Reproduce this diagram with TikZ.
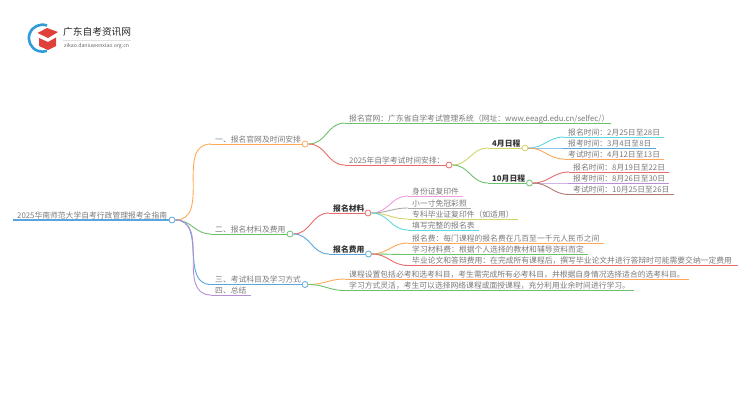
\documentclass[tikz,border=0pt]{standalone}
\usepackage{fontspec}
\setmainfont{Noto Sans CJK SC}
\usetikzlibrary{arrows.meta}
\definecolor{lorange}{HTML}{FFA858}
\definecolor{lgreen}{HTML}{6CC06C}
\definecolor{lred}{HTML}{E86A6A}
\definecolor{lblue}{HTML}{5AA5DC}
\definecolor{lpurple}{HTML}{B78FD8}
\definecolor{lyellow}{HTML}{D4D46A}
\definecolor{lcyan}{HTML}{5ED8E0}
\definecolor{lpink}{HTML}{F29AE0}
\definecolor{lgray}{HTML}{AAAAAA}
\definecolor{lbrown}{HTML}{B07A70}
\definecolor{logored}{HTML}{E0403A}
\definecolor{logoblue}{HTML}{2F9BD8}
\tikzset{
  every picture/.style={x=1pt, y=-1pt},
  topic/.style={anchor=south west, font=\fontsize{7.8}{9}\selectfont, text=black!52,
    inner xsep=4pt, inner ysep=0.5pt, text height=7pt, text depth=1pt},
  head/.style={topic, text=black!80, font=\fontsize{7.8}{9}\selectfont\bfseries},
  dot/.style={circle, draw, fill=white, line width=0.8pt, minimum size=6pt, inner sep=0pt},
  link/.style={line width=0.9pt, out=0, in=180, looseness=1.1}}

\begin{document}
\begin{tikzpicture}
    \useasboundingbox (0, 0) rectangle (750, 410);

    % logo
    \begin{scope}
      \draw[logoblue, line width=2.6pt] (47, 25.5) arc (-70:-290:13.5);
      \fill[logored] (37.5, 33) -- (47, 28) -- (58, 32) -- (48, 38) -- cycle;
      \fill[logored] (39, 38) -- (48, 42) -- (56, 37.5) -- (56, 46) -- (48, 50) -- (39, 46) -- cycle;
      \node[anchor=west, font=\fontsize{9.7}{11}\selectfont, text=black!85, inner sep=0pt] (title) at (63, 31.5) {广东自考资讯网};
      \node[anchor=west, font=\fontsize{5.2}{6}\selectfont, text=black!60, inner sep=0pt] (site) at (64, 46.5) {zikao.daniuwenxiao.org.cn};
      \coordinate (ruleA) at (63, 40);
      \coordinate (ruleB) at (131, 40);
      \draw[black!12, line width=0.4pt] (ruleA) -- (ruleB);
    \end{scope}

    % root and first level
    \node[topic] (root) at (13, 220) {2025华南师范大学自考行政管理报考全指南};
    \node[dot, draw=lblue] (rootd) at (172, 220) {};
    \node[topic] (A) at (211, 144) {一、报名官网及时间安排};
    \node[dot, draw=lorange] (Ad) at (305, 144) {};
    \node[topic] (B) at (211, 234) {二、报名材料及费用};
    \node[dot, draw=lgreen] (Bd) at (290, 234) {};
    \node[topic] (C) at (211, 284.5) {三、考试科目及学习方式};
    \node[dot, draw=lblue] (Cd) at (305, 284.5) {};
    \node[topic] (D) at (211, 295) {四、总结};

    \draw[lblue, line width=1.2pt] (root.south west) -- (rootd.west);
    \draw[link, lorange] (rootd.east) to (A.south west);
    \draw[link, lorange] (A.south west) -- (Ad.west);
    \draw[link, lgreen] (rootd.east) to (B.south west);
    \draw[link, lgreen] (B.south west) -- (Bd.west);
    \draw[link, lblue] (rootd.east) to (C.south west);
    \draw[link, lblue] (C.south west) -- (Cd.west);
    \draw[link, lpurple] (rootd.east) to (D.south west);
    \draw[link, lpurple] (D.south west) -- (D.south east);

    % branch one
    \node[topic, text width=258pt] (A1) at (345, 123) {报名官网：广东省自学考试管理系统（网址：www.eeagd.edu.cn/selfec/）};
    \node[topic] (A2) at (345, 165) {2025年自学考试时间安排：};
    \node[dot, draw=lred] (A2d) at (449, 165) {};
    \draw[link, lgreen] (Ad.east) to (A1.south west);
    \draw[link, lgreen] (A1.south west) -- (A1.south east);
    \draw[link, lred] (Ad.east) to (A2.south west);
    \draw[link, lred] (A2.south west) -- (A2d.west);

    \node[head] (P) at (488, 148) {4月日程};
    \node[dot, draw=lyellow] (Pd) at (525, 148) {};
    \node[head] (Q) at (488, 183) {10月日程};
    \node[dot, draw=lgreen] (Qd) at (529.5, 183) {};
    \draw[link, lyellow] (A2d.east) to (P.south west);
    \draw[link, lyellow] (P.south west) -- (Pd.west);
    \draw[link, lgreen] (A2d.east) to (Q.south west);
    \draw[link, lgreen] (Q.south west) -- (Qd.west);

    \node[topic] (P1) at (564, 137) {报名时间：2月25日至28日};
    \node[topic] (P2) at (564, 148) {报考时间：3月4日至8日};
    \node[topic] (P3) at (564, 159) {考试时间：4月12日至13日};
    \draw[link, lcyan] (Pd.east) to (P1.south west);
    \draw[link, lcyan] (P1.south west) -- (P1.south east);
    \draw[link, lblue] (Pd.east) to (P2.south west);
    \draw[link, lblue] (P2.south west) -- (P2.south east);
    \draw[link, lorange] (Pd.east) to (P3.south west);
    \draw[link, lorange] (P3.south west) -- (P3.south east);

    \node[topic] (Q1) at (569, 172) {报名时间：8月19日至22日};
    \node[topic] (Q2) at (569, 183) {报考时间：8月26日至30日};
    \node[topic] (Q3) at (569, 194.5) {考试时间：10月25日至26日};
    \draw[link, lred] (Qd.east) to (Q1.south west);
    \draw[link, lred] (Q1.south west) -- (Q1.south east);
    \draw[link, lpurple] (Qd.east) to (Q2.south west);
    \draw[link, lpurple] (Q2.south west) -- (Q2.south east);
    \draw[link, lbrown] (Qd.east) to (Q3.south west);
    \draw[link, lbrown] (Q3.south west) -- (Q3.south east);

    % branch two
    \node[head] (M) at (329, 213) {报名材料};
    \node[dot, draw=lred] (Md) at (368, 213) {};
    \node[head] (F) at (329, 254) {报名费用};
    \node[dot, draw=lblue] (Fd) at (368.5, 254) {};
    \draw[link, lred] (Bd.east) to (M.south west);
    \draw[link, lred] (M.south west) -- (Md.west);
    \draw[link, lblue] (Bd.east) to (F.south west);
    \draw[link, lblue] (F.south west) -- (Fd.west);

    \node[topic] (M1) at (408, 196) {身份证复印件};
    \node[topic] (M2) at (408, 208) {小一寸免冠彩照};
    \node[topic] (M3) at (408, 219) {专科毕业证复印件（如适用）};
    \node[topic] (M4) at (408, 230) {填写完整的报名表};
    \draw[link, lpink] (Md.east) to (M1.south west);
    \draw[link, lpink] (M1.south west) -- (M1.south east);
    \draw[link, lgray] (Md.east) to (M2.south west);
    \draw[link, lgray] (M2.south west) -- (M2.south east);
    \draw[link, lyellow] (Md.east) to (M3.south west);
    \draw[link, lyellow] (M3.south west) -- (M3.south east);
    \draw[link, lcyan] (Md.east) to (M4.south west);
    \draw[link, lcyan] (M4.south west) -- (M4.south east);

    \node[topic] (F1) at (408, 243) {报名费：每门课程的报名费在几百至一千元人民币之间};
    \node[topic] (F2) at (408, 254.5) {学习材料费：根据个人选择的教材和辅导资料而定};
    \node[topic, text width=322pt] (F3) at (408, 265.5) {毕业论文和答辩费用：在完成所有课程后，撰写毕业论文并进行答辩时可能需要交纳一定费用};
    \draw[link, lorange] (Fd.east) to (F1.south west);
    \draw[link, lorange] (F1.south west) -- (F1.south east);
    \draw[link, lgreen] (Fd.east) to (F2.south west);
    \draw[link, lgreen] (F2.south west) -- (F2.south east);
    \draw[link, lred] (Fd.east) to (F3.south west);
    \draw[link, lred] (F3.south west) -- (F3.south east);

    % branch three
    \node[topic] (C1) at (345, 279) {课程设置包括必考和选考科目，考生需完成所有必考科目，并根据自身情况选择适合的选考科目。};
    \node[topic] (C2) at (345, 290.5) {学习方式灵活，考生可以选择网络课程或面授课程，充分利用业余时间进行学习。};
    \draw[link, lorange] (Cd.east) to (C1.south west);
    \draw[link, lorange] (C1.south west) -- (C1.south east);
    \draw[link, lgreen] (Cd.east) to (C2.south west);
    \draw[link, lgreen] (C2.south west) -- (C2.south east);
\end{tikzpicture}
\end{document}
